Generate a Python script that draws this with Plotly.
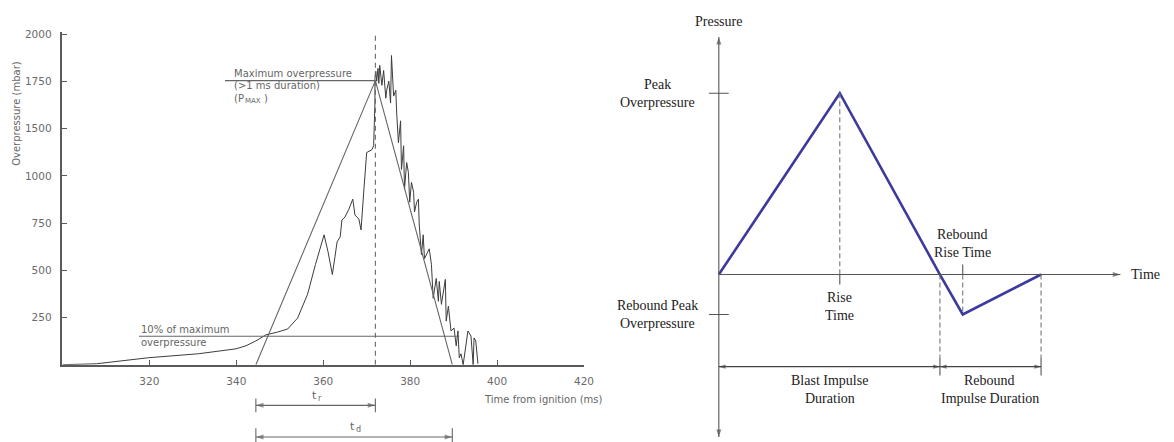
import plotly.graph_objects as go

W, H = 1174, 442

# ---------------- left panel: measured overpressure record ----------------
# time from ignition (ms) and overpressure (in units of the printed axis scale)
trace_t = [300.0, 307.8, 319.8, 331.3, 339.9, 342.2, 344.5, 346.8, 349.5, 351.8, 354.1, 356.4,
           358.2, 360.2, 361.1, 362.1, 362.7, 363.2, 363.9, 364.3, 365.0, 365.9, 366.8, 367.3,
           368.2, 368.7, 369.4, 370.0, 371.2, 371.6, 371.9, 371.9, 372.1, 372.3, 372.6, 372.8,
           373.0, 373.5, 373.9, 374.4, 374.6, 375.1, 375.5, 375.7, 376.2, 376.7, 376.9, 377.3,
           377.8, 378.0, 378.5, 378.7, 379.2, 379.6, 379.9, 380.3, 380.8, 381.0, 381.5, 381.9,
           382.1, 382.6, 383.0, 383.3, 384.4, 384.9, 385.3, 386.0, 386.5, 386.7, 387.2, 388.1,
           388.3, 388.8, 389.4, 390.1, 390.6, 391.0, 391.3, 391.7, 392.2, 393.3, 394.0, 394.5,
           394.7, 395.1, 395.6]
trace_p = [0, 5, 37, 58, 84, 100, 126, 158, 173, 189, 247, 373,
           530, 688, 599, 478, 572, 651, 677, 767, 782, 824, 877, 793,
           772, 714, 940, 1124, 1139, 1160, 1386, 1517, 1554, 1502, 1570, 1491,
           1586, 1480, 1559, 1412, 1454, 1502, 1386, 1638, 1423, 1454, 1334, 1176,
           1292, 1034, 1160, 929, 1071, 1019, 861, 966, 914, 809, 861, 877,
           740, 583, 688, 562, 614, 530, 352, 457, 336, 441, 320, 452,
           231, 310, 179, 194, 100, 179, 37, 58, 0, 179, 152, 0,
           142, 126, 5]

# idealised triangular pulse
t_start, t_peak, t_end = 344.5, 372.0, 389.7
PMAX = 1505
tri_t = [t_start, t_peak, t_end]
tri_p = [0, PMAX, 0]
ten_pct = 0.1 * PMAX
ten_line_t = [317.6, 391.3]
pmax_line_t = [337.4, t_peak]

x_ticks = [320, 340, 360, 380, 400, 420]
y_tickvals = [250, 500, 750, 1000, 1250, 1500, 1750]
y_ticktext = ["250", "500", "750", "1000", "1500", "1750", "2000"]

# ---------------- right panel: schematic blast wave ----------------
t_rise, t_zero, t_reb, t_fin = 1.22, 2.23, 2.46, 3.25
p_peak, p_reb = 1.0, -0.22
sch_t = [0, t_rise, t_zero, t_reb, t_fin]
sch_p = [0, p_peak, 0, p_reb, 0]
axis_t_max, axis_p_max, axis_p_min = 4.05, 1.31, -0.896
bar_top, bar_bot, arrow_p = -0.46, -0.557, -0.508

# pixel mapping of the right schematic axes
X2_ORIGIN, X2_SCALE = 725, 100.0
Y2_ORIGIN, Y2_SCALE = 273, 183.0
x2_dom0 = 0.51

LG = "#5a5a5a"
LFONT = "DejaVu Sans"
RFONT = "Liberation Serif"

fig = go.Figure()


def arrow_line(xs, ys, xa, ya, heads, angles, color, width, size, symbol="arrow"):
    fig.add_trace(go.Scatter(
        x=xs, y=ys, mode="lines+markers", xaxis=xa, yaxis=ya,
        line=dict(color=color, width=width),
        marker=dict(symbol=symbol, size=[size if h else 0 for h in heads], angle=angles,
                    color=color, line=dict(width=0))))


# left main subplot
fig.add_trace(go.Scatter(x=trace_t, y=trace_p, mode="lines",
                         line=dict(color="#3c3c3c", width=1), xaxis="x", yaxis="y"))
fig.add_trace(go.Scatter(x=tri_t, y=tri_p, mode="lines",
                         line=dict(color="#666", width=1.1), xaxis="x", yaxis="y"))
fig.add_trace(go.Scatter(x=ten_line_t, y=[ten_pct, ten_pct], mode="lines",
                         line=dict(color="#666", width=1.1), xaxis="x", yaxis="y"))
fig.add_trace(go.Scatter(x=pmax_line_t, y=[PMAX, PMAX], mode="lines",
                         line=dict(color="#666", width=1.1), xaxis="x", yaxis="y"))
fig.add_trace(go.Scatter(x=[t_peak, t_peak], y=[0, 1753], mode="lines",
                         line=dict(color="#666", width=1.1, dash="5px,4px"), xaxis="x", yaxis="y"))

# left bottom strip (t_r, t_d)
v_tr, v_td = 37, 5
fig.add_trace(go.Scatter(
    x=[t_start, t_start, None, t_peak, t_peak, None, t_start, t_start, None, t_end, t_end],
    y=[v_tr - 7, v_tr + 7, None, v_tr - 7, v_tr + 7, None, v_td - 5, v_td + 9, None, v_td - 5, v_td + 9],
    mode="lines", line=dict(color="#666", width=1.1), xaxis="x3", yaxis="y3"))
arrow_line([t_start, t_peak], [v_tr, v_tr], "x3", "y3", [1, 1], [-90, 90], "#666", 1.1, 8)
arrow_line([t_start, t_end], [v_td, v_td], "x3", "y3", [1, 1], [-90, 90], "#666", 1.1, 8)

# right schematic
fig.add_trace(go.Scatter(x=sch_t, y=sch_p, mode="lines",
                         line=dict(color="#3d3a9e", width=2.6), xaxis="x2", yaxis="y2"))
dash_t = [t_rise, t_rise, None, t_reb, t_reb, None, t_zero, t_zero, None, t_fin, t_fin]
dash_p = [p_peak, 0, None, 0, p_reb, None, 0, bar_top, None, 0, bar_top]
fig.add_trace(go.Scatter(x=dash_t, y=dash_p, mode="lines",
                         line=dict(color="#777", width=1.1, dash="5px,3px"), xaxis="x2", yaxis="y2"))
solid_t = [-0.1, 0.1, None, -0.1, 0.1, None, t_rise, t_rise, None, t_reb, t_reb, None,
           t_zero, t_zero, None, t_fin, t_fin]
solid_p = [p_peak, p_peak, None, p_reb, p_reb, None, 0, -0.055, None, 0, 0.055, None,
           bar_top, bar_bot, None, bar_top, bar_bot]
fig.add_trace(go.Scatter(x=solid_t, y=solid_p, mode="lines",
                         line=dict(color="#555", width=1.1), xaxis="x2", yaxis="y2"))

# axes of the schematic (with arrow tips)
arrow_line([0, axis_t_max], [0, 0], "x2", "y2", [0, 1], [0, 90], "#555", 1.1, 8)
arrow_line([0, 0], [axis_p_min, axis_p_max], "x2", "y2", [1, 1], [180, 0], "#555", 1.1, 8)
# impulse duration arrows
arrow_line([0, t_zero], [arrow_p, arrow_p], "x2", "y2", [1, 1], [-90, 90], "#444", 1.1, 7)
arrow_line([t_zero, t_fin], [arrow_p, arrow_p], "x2", "y2", [1, 1], [-90, 90], "#444", 1.1, 7)

ann = []


def txt(x, y, s, xr, yr, font, size, color, xanchor="center", yanchor="middle", angle=0,
        xshift=0, yshift=0):
    ann.append(dict(x=x, y=y, xref=xr, yref=yr, text=s, showarrow=False, xanchor=xanchor,
                    yanchor=yanchor, align="center" if xanchor == "center" else xanchor,
                    textangle=angle, xshift=xshift, yshift=yshift, borderpad=0,
                    font=dict(family=font, size=size, color=color)))


def txt2(x, y, l1, l2, gap=0.05):
    txt(x, y + gap, l1, "x2", "y2", RFONT, 14, "#222")
    txt(x, y - gap, l2, "x2", "y2", RFONT, 14, "#222")


tc = "#666"
# t_r and t_d labels (subscript drawn as a separate smaller text)
for mid, v in [((t_start + t_peak) / 2, v_tr + 10), ((t_start + t_end) / 2, v_td + 11)]:
    txt(mid, v, "t", "x3", "y3", LFONT, 11, tc, xanchor="right", xshift=2)
txt((t_start + t_peak) / 2, v_tr + 10, "r", "x3", "y3", LFONT, 8, tc, xanchor="left", xshift=1, yshift=-3)
txt((t_start + t_end) / 2, v_td + 11, "d", "x3", "y3", LFONT, 8, tc, xanchor="left", xshift=1, yshift=-3)

txt(339.2, 1543, "Maximum overpressure", "x", "y", LFONT, 10, tc, xanchor="left")
txt(339.2, 1480, "(>1 ms duration)", "x", "y", LFONT, 10, tc, xanchor="left")
txt(339.2, 1412, "(P", "x", "y", LFONT, 10, tc, xanchor="left")
txt(339.2, 1412, "MAX", "x", "y", LFONT, 7, tc, xanchor="left", xshift=11, yshift=-3)
txt(339.2, 1412, ")", "x", "y", LFONT, 10, tc, xanchor="left", xshift=30)
txt(317.8, 186, "10% of maximum", "x", "y", LFONT, 10, tc, xanchor="left")
txt(317.8, 117, "overpressure", "x", "y", LFONT, 10, tc, xanchor="left")
txt(16 / W, (H - 110) / H, "Overpressure (mbar)", "paper", "paper", LFONT, 10, tc, angle=-90)
txt(487 / W, (H - 399) / H, "Time from ignition (ms)", "paper", "paper", LFONT, 10, tc, xanchor="left")

txt(0, 1.393, "Pressure", "x2", "y2", RFONT, 14, "#222")
txt2(-0.62, p_peak, "Peak", "Overpressure")
txt2(-0.62, p_reb, "Rebound Peak", "Overpressure")
txt2(t_rise, -0.175, "Rise", "Time")
txt2(t_reb, 0.169, "Rebound", "Rise Time")
txt2(1.12, -0.634, "Blast Impulse", "Duration")
txt2(2.73, -0.634, "Rebound", "Impulse Duration")
txt(4.15, 0, "Time", "x2", "y2", RFONT, 14, "#222", xanchor="left")

x_dom = [63 / W, 589 / W]
common_axis = dict(showgrid=False, zeroline=False, showline=True, linecolor=LG, linewidth=1.5,
                   ticks="inside", ticklen=5, tickwidth=1.2, tickcolor=LG,
                   tickfont=dict(family=LFONT, size=10.5, color="#6a6a6a"))

fig.update_layout(
    width=W, height=H, margin=dict(l=0, r=0, t=0, b=0),
    paper_bgcolor="white", plot_bgcolor="rgba(0,0,0,0)", showlegend=False,
    xaxis=dict(domain=x_dom, range=[300, 420], anchor="y", tickvals=x_ticks,
               ticklabelstandoff=6, **common_axis),
    yaxis=dict(domain=[(H - 364) / H, (H - 28) / H], range=[0, 1764], anchor="x",
               tickvals=y_tickvals, ticktext=y_ticktext, ticklabelstandoff=7, **common_axis),
    xaxis2=dict(domain=[x2_dom0, 1], anchor="y2", visible=False,
                range=[(x2_dom0 * W - X2_ORIGIN) / X2_SCALE, (W - X2_ORIGIN) / X2_SCALE]),
    yaxis2=dict(domain=[0, 1], anchor="x2", visible=False,
                range=[(Y2_ORIGIN - H) / Y2_SCALE, Y2_ORIGIN / Y2_SCALE]),
    xaxis3=dict(domain=x_dom, anchor="y3", matches="x", visible=False),
    yaxis3=dict(domain=[0, 0.125], range=[0, 0.125 * H], anchor="x3", visible=False),
    annotations=ann,
)

fig.write_html("out.html", config={"displayModeBar": False},
               post_script="document.body.style.margin='0';document.body.style.overflow='hidden';")
